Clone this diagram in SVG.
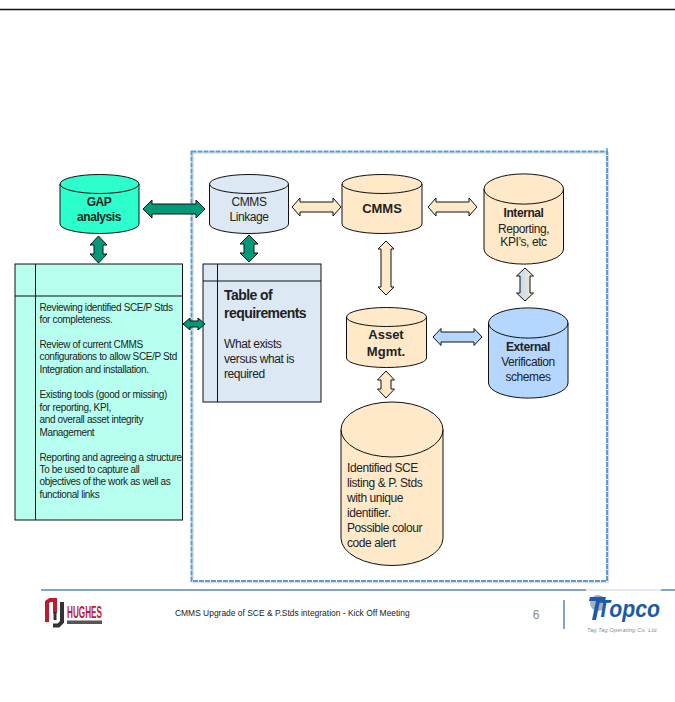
<svg xmlns="http://www.w3.org/2000/svg" width="675" height="702" viewBox="0 0 675 702">
<style>
text{font-family:"Liberation Sans",Arial,sans-serif;fill:#222}
.cyl{stroke:#111;stroke-width:1}
.cream{fill:#FFE9C9}.mint{fill:#2CFFCB}.pale{fill:#DCE8F4}.sky{fill:#B5D7FF}
.arr{stroke:#111;stroke-width:1}
.green{fill:#009A78}
.m{text-anchor:middle}
.b{font-weight:bold}
.l{font-size:10px;letter-spacing:-.36px}
.t{stroke:#111;stroke-width:1;fill:none}
.s12{font-size:12px;letter-spacing:-.42px}
.h{font-size:14px;letter-spacing:-.55px;font-weight:bold}
</style>
<defs>
<linearGradient id="bc" x1="0" x2="1" y1="0" y2="0"><stop offset="0" stop-color="#B5D7FF"/><stop offset="1" stop-color="#FFE9C9"/></linearGradient>
</defs>
<rect width="675" height="702" fill="#fff"/>
<path d="M0 9.500H675" stroke="#111" stroke-width="1.500"/>
<g id="footer">
<path d="M41 590H675" stroke="#5A86B5" stroke-width="1.500"/>
<path d="M564 600V629" stroke="#5A86B5" stroke-width="1.500"/>
<text x="175" y="616" font-size="8.450">CMMS Upgrade of SCE &amp; P.Stds integration - Kick Off Meeting</text>
<text x="536" y="619" font-size="12" class="m" style="fill:#8a8a8a">6</text>
</g>
<g id="logo-hughes" fill="none">
<path d="M47 622V602L50 600H55V613" stroke="#C01A30" stroke-width="4"/>
<path d="M62 602V622L58.500 625.500H53" stroke="#333" stroke-width="4"/>
<path d="M55 612V620" stroke="#333" stroke-width="3"/>
<text x="67" y="618" font-size="16" class="b" style="fill:#C01A30" textLength="35" lengthAdjust="spacingAndGlyphs">HUGHES</text>
<rect x="67" y="620.500" width="35" height="3.500" fill="#555"/>
</g>
<g id="logo-topco">
<rect x="586" y="589" width="75" height="46" fill="#fff"/>
<path d="M586 590H661" stroke="#C8D4E2" stroke-width="1"/>
<circle cx="598" cy="603" r="8" fill="#A5B0BC"/>
<path d="M590 597H606L605 601H600L596 620H592L596 601H589Z" fill="#1A5CA8"/>
<text x="597" y="617" font-size="24" class="b" style="fill:#1A5CA8;font-style:italic" textLength="63" lengthAdjust="spacingAndGlyphs">Topco</text>
<text x="587" y="632" font-size="5.500" style="fill:#7d8b99;font-style:italic" textLength="71">Tag Tag Operating Co. Ltd.</text>
</g>
<g id="frame" fill="none">
<path d="M193 153H608.500V582.500H193Z" stroke="#ddd" stroke-width="1.500"/>
<path d="M191.500 151.500H607V581H191.500Z" stroke="#5B9BD5" stroke-width="2" stroke-dasharray="5 1"/>
<path d="M607 148V152" stroke="#5B9BD5" stroke-width="1.500"/>
</g>
<g id="gap-table">
<rect x="15" y="264" width="167.500" height="256" fill="#B7FFEE" stroke="#111"/>
<path class="t" d="M35.500 264V520M15 296H182.500"/>
<text class="l" x="39.500" y="310.500">Reviewing identified SCE/P Stds</text>
<text class="l" x="39.500" y="323">for completeness.</text>
<text class="l" x="39.500" y="347.500">Review of current CMMS</text>
<text class="l" x="39.500" y="360">configurations to allow SCE/P Std</text>
<text class="l" x="39.500" y="373">Integration and installation.</text>
<text class="l" x="39.500" y="398">Existing tools (good or missing)</text>
<text class="l" x="39.500" y="410.500">for reporting, KPI,</text>
<text class="l" x="39.500" y="423">and overall asset integrity</text>
<text class="l" x="39.500" y="435.500">Management</text>
<text class="l" x="39.500" y="460.500">Reporting and agreeing a structure</text>
<text class="l" x="39.500" y="472.500">To be used to capture all</text>
<text class="l" x="39.500" y="485">objectives of the work as well as</text>
<text class="l" x="39.500" y="497.500">functional links</text>
</g>
<g id="req-table">
<rect x="203" y="264" width="118" height="138" fill="#DCE8F4" stroke="#111"/>
<path class="t" d="M217.500 264V402M203 281H321"/>
<text x="224" y="300" class="h">Table of</text>
<text x="224" y="318" class="h">requirements</text>
<text x="224" y="348" class="s12">What exists</text>
<text x="224" y="363" class="s12">versus what is</text>
<text x="224" y="378" class="s12">required</text>
</g>
<g id="gap-analysis">
<path class="cyl mint" d="M60 184V224A39.500 9.500 0 0 0 139 224V184A39.500 9.500 0 0 0 60 184A39.500 9.500 0 0 0 139 184"/>
<text class="m b s12" x="99" y="206">GAP</text><text class="m b s12" x="99" y="221">analysis</text>
</g>
<g id="cmms-linkage">
<path class="cyl pale" d="M209.500 184V224A39.500 9.500 0 0 0 288.500 224V184A39.500 9.500 0 0 0 209.500 184A39.500 9.500 0 0 0 288.500 184"/>
<text class="m s12" x="249" y="206">CMMS</text><text class="m s12" x="249" y="221">Linkage</text>
</g>
<g id="cmms">
<path class="cyl cream" d="M342 184V224A40 9.500 0 0 0 422 224V184A40 9.500 0 0 0 342 184A40 9.500 0 0 0 422 184"/>
<text class="m b" font-size="13" x="382" y="213">CMMS</text>
</g>
<g id="internal">
<path class="cyl cream" d="M484 189V249A39.500 15 0 0 0 563.500 249V189A39.500 15 0 0 0 484 189A39.500 15 0 0 0 563.500 189"/>
<text class="m b s12" x="523.500" y="217">Internal</text><text class="m s12" x="523.500" y="233">Reporting,</text><text class="m s12" x="523.500" y="246">KPI’s, etc</text>
</g>
<g id="external">
<path class="cyl sky" d="M488.500 323V383A39.500 15 0 0 0 568 383V323A39.500 15 0 0 0 488.500 323A39.500 15 0 0 0 568 323"/>
<text class="m b s12" x="528" y="351">External</text><text class="m s12" x="528" y="366">Verification</text><text class="m s12" x="528" y="381">schemes</text>
</g>
<g id="asset-mgmt">
<path class="cyl cream" d="M346.500 317V358A40 9.500 0 0 0 426.500 358V317A40 9.500 0 0 0 346.500 317A40 9.500 0 0 0 426.500 317"/>
<text class="m b" font-size="13" x="386" y="339">Asset</text><text class="m b" font-size="13" x="386" y="356">Mgmt.</text>
</g>
<g id="sce-listing">
<path class="cyl cream" d="M341 429.500V538A51 27.500 0 0 0 443 538V429.500A51 27.500 0 0 0 341 429.500A51 27.500 0 0 0 443 429.500"/>
<text class="s12" x="347" y="472">Identified SCE</text>
<text class="s12" x="347" y="487">listing &amp; P. Stds</text>
<text class="s12" x="347" y="502">with unique</text>
<text class="s12" x="347" y="517">identifier.</text>
<text class="s12" x="347" y="532">Possible colour</text>
<text class="s12" x="347" y="547">code alert</text>
</g>
<g id="connectors">
<polygon class="arr green" points="143,209 152,200 152,204 196,204 196,200 205,209 196,218 196,214 152,214 152,218"/>
<polygon class="arr green" points="98.500,236 107,245 103,245 103,254 107,254 98.500,263 90,254 94,254 94,245 90,245"/>
<polygon class="arr green" points="249,235 258,244 254,244 254,253 258,253 249,262 240,253 244,253 244,244 240,244"/>
<polygon class="arr green" points="183,324 190,318 190,321 198,321 198,318 205,324 198,330 198,327 190,327 190,330"/>
<polygon class="arr cream" points="292,207 300,198 300,202 333,202 333,198 341,207 333,216 333,212 300,212 300,216"/>
<polygon class="arr cream" points="428,207 436,198 436,202 469,202 469,198 477,207 469,216 469,212 436,212 436,216"/>
<polygon class="arr cream" points="386,241 394,249 391,249 391,287 394,287 386,295 378,287 381,287 381,249 378,249"/>
<polygon class="arr" fill="url(#bc)" points="525,268 533.500,276 530,276 530,293 533.500,293 525,301 516.500,293 520,293 520,276 516.500,276"/>
<polygon class="arr sky" points="433,337 441,328.500 441,332 474,332 474,328.500 482,337 474,345.500 474,342 441,342 441,345.500"/>
<polygon class="arr cream" points="386,371 394.500,380 391,380 391,389 394.500,389 386,398 377.500,389 381,389 381,380 377.500,380"/>
</g>
</svg>
